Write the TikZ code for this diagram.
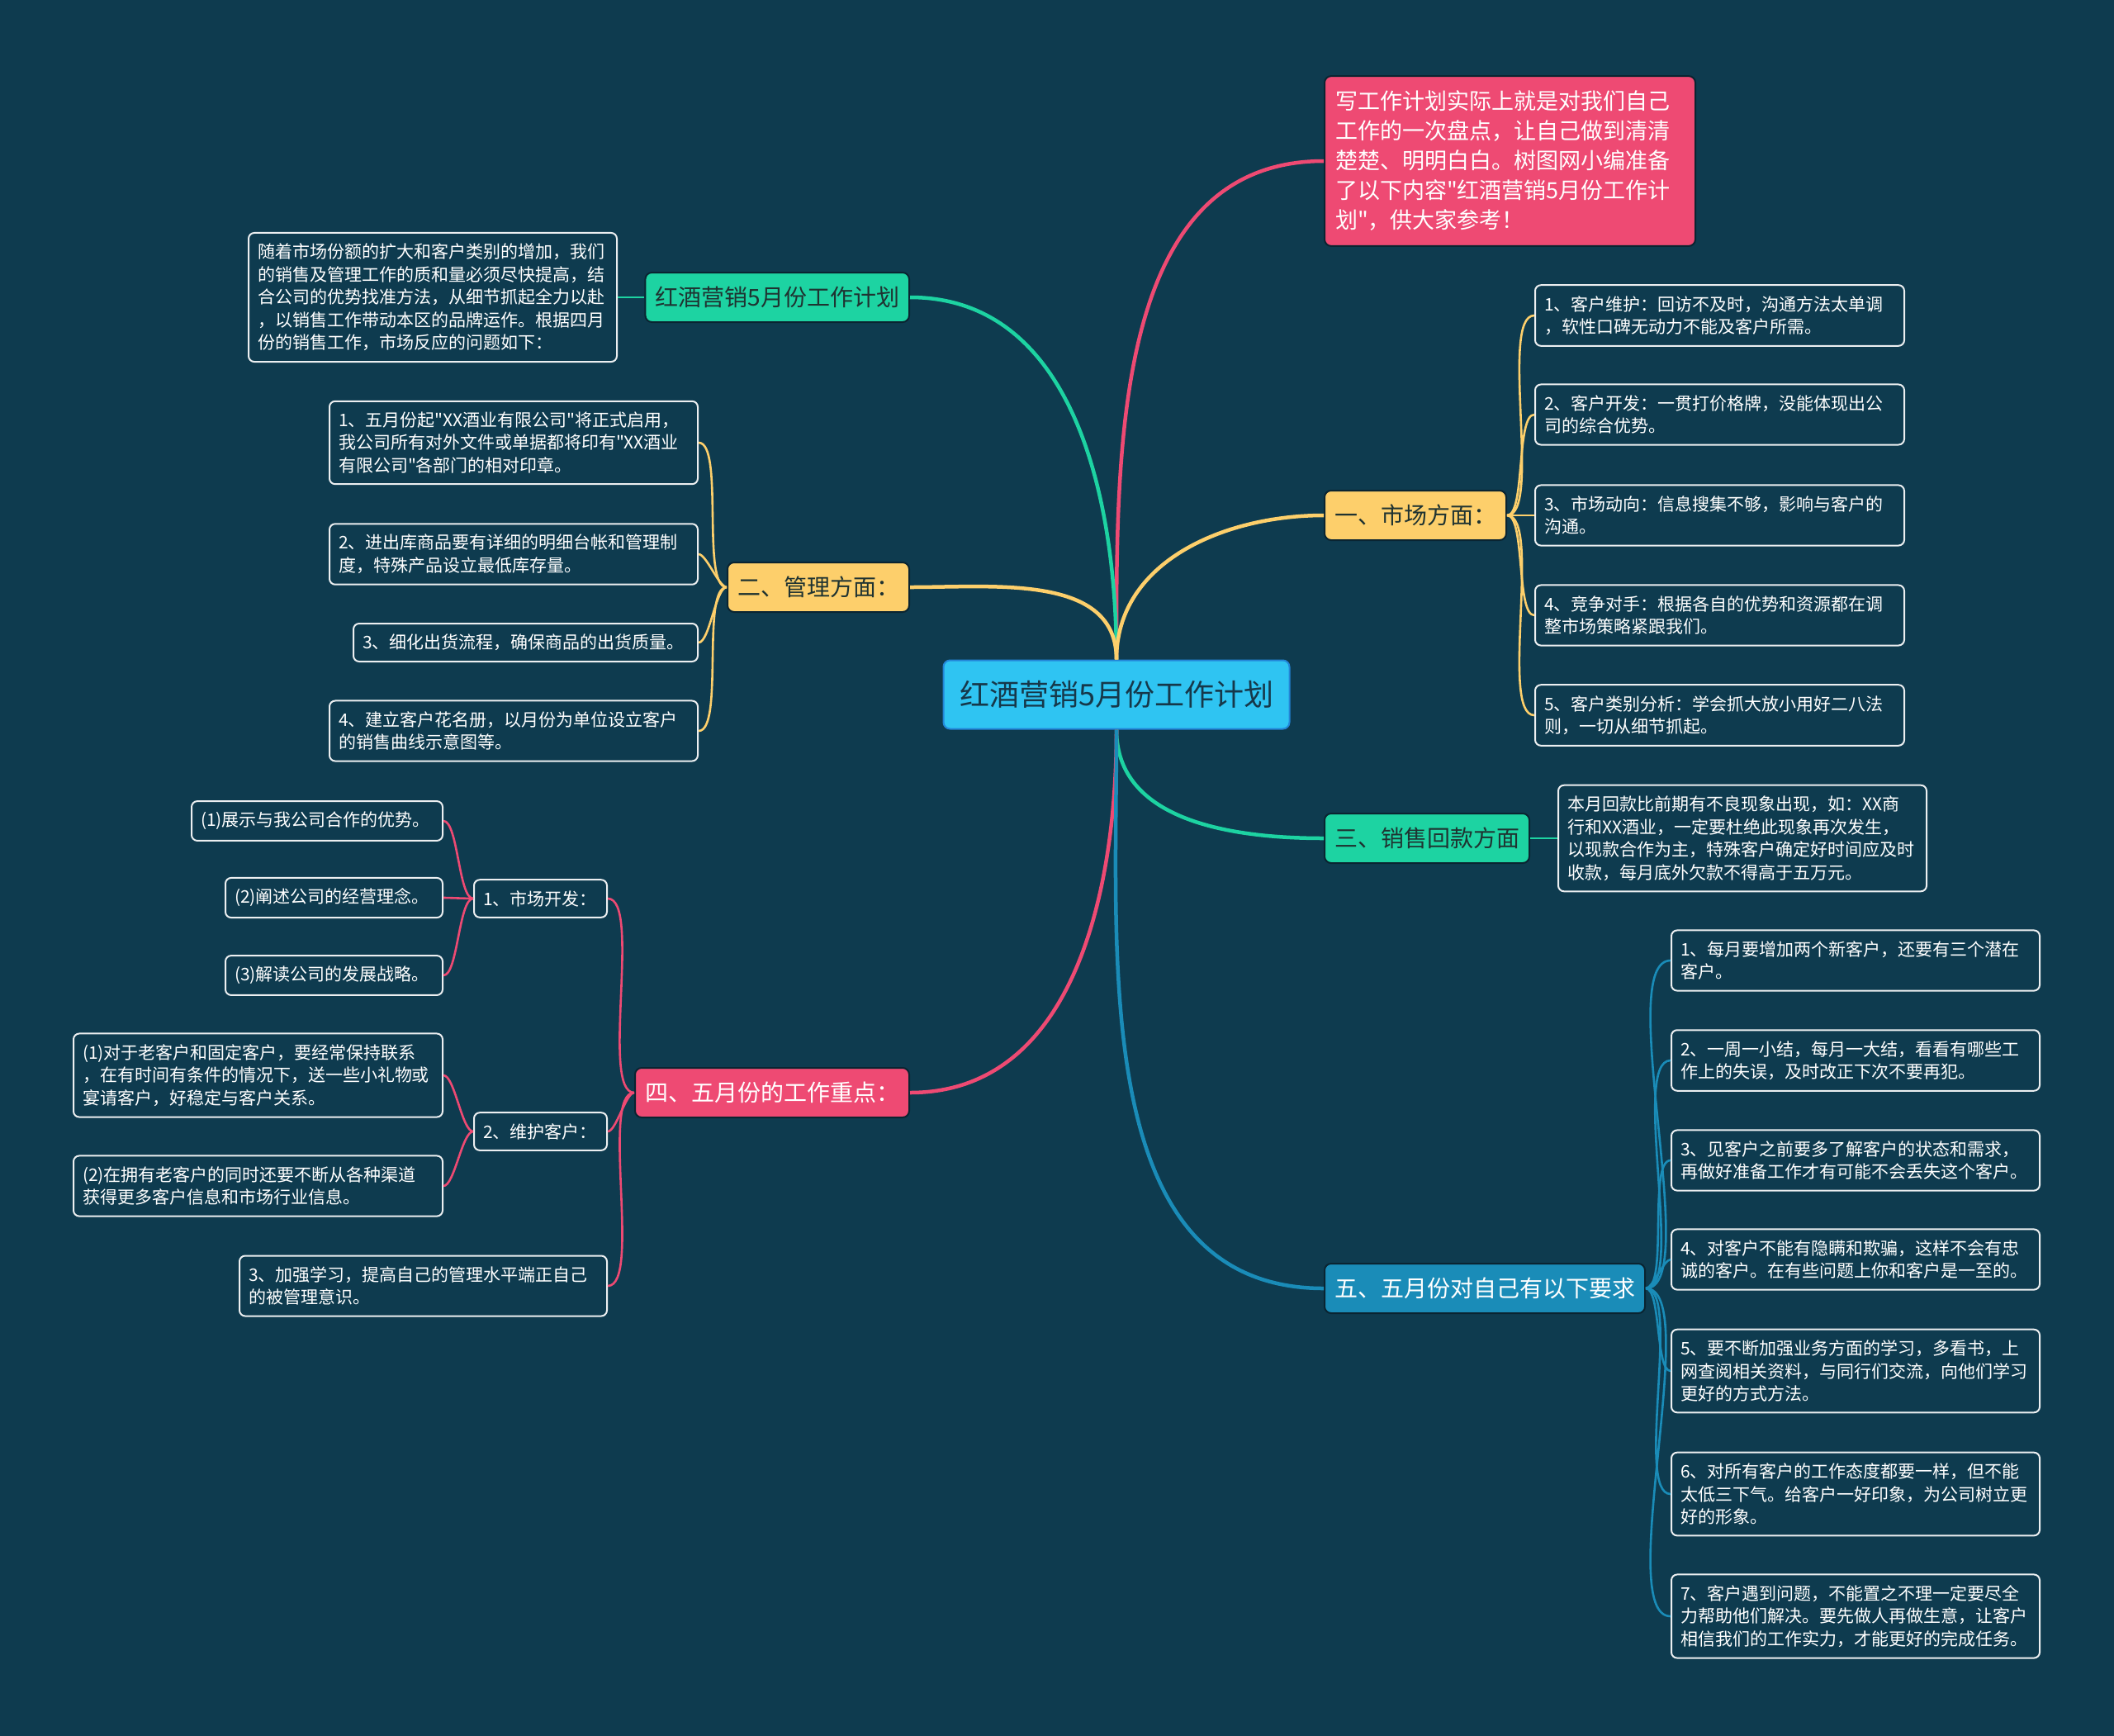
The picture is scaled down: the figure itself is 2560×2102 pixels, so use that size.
\documentclass[tikz,border=0pt]{standalone}
\usepackage{fontspec}
\newfontfamily\cjk{Noto Sans CJK SC}
\newcommand\leaffont{\cjk\fontsize{21}{27.5}\selectfont}
\newcommand\branchfont{\cjk\fontsize{28}{34}\selectfont}
\newcommand\introfont{\cjk\fontsize{27}{36}\selectfont}
\newcommand\rootfont{\cjk\fontsize{36}{42}\selectfont}
\definecolor{bgc}{HTML}{0E3B4F}
\definecolor{rootc}{HTML}{2FC4F2}
\definecolor{rootb}{HTML}{2386D8}
\definecolor{roott}{HTML}{16384A}
\definecolor{pinkc}{HTML}{EE4A73}
\definecolor{yelc}{HTML}{FDCF6B}
\definecolor{grnc}{HTML}{1DD3A2}
\definecolor{bluc}{HTML}{1A8CB8}
\definecolor{inkc}{HTML}{0A2431}
\definecolor{darktxt}{HTML}{1F3331}
\begin{document}
\begin{tikzpicture}[x=1pt, y=-1pt,
    leaf/.style={draw=white!92!bgc, line width=2pt, rounded corners=7pt, fill=bgc, text=white, font=\leaffont, align=left, inner xsep=11pt, inner ysep=13pt, text width=#1pt},
    branch/.style={draw=inkc, line width=2pt, rounded corners=8pt, font=\branchfont, minimum height=60pt, inner xsep=12pt},
    trunk/.style={line width=4.5pt},
    twig/.style={line width=2.6pt, looseness=0.45}]
    \fill[bgc] (0,0) rectangle (2560,2102);

    % centre and main branches
    \node[branch, draw=rootb, fill=rootc, text=roott, font=\rootfont, minimum width=419pt, minimum height=83pt] (root) at (1352,841) {红酒营销5月份工作计划};
    \node[branch, fill=pinkc, text=white, font=\introfont, align=left, text width=423pt, inner xsep=13pt, inner ysep=18pt, anchor=west] (intro) at (1603,195) {写工作计划实际上就是对我们自己\\工作的一次盘点，让自己做到清清\\楚楚、明明白白。树图网小编准备\\了以下内容"红酒营销5月份工作计\\划"，供大家参考！};
    \node[branch, fill=grnc, text=darktxt, minimum width=313pt, anchor=east] (plan) at (1102,360) {红酒营销5月份工作计划};
    \node[branch, fill=yelc, text=darktxt, minimum width=217pt, anchor=east] (mgmt) at (1102,711) {二、管理方面：};
    \node[branch, fill=pinkc, text=white, minimum width=326pt, anchor=east] (focus) at (1102,1323) {四、五月份的工作重点：};
    \node[branch, fill=yelc, text=darktxt, minimum width=216pt, anchor=west] (mkt) at (1603,624) {一、市场方面：};
    \node[branch, fill=grnc, text=darktxt, minimum width=244pt, anchor=west] (pay) at (1603,1015) {三、销售回款方面};
    \node[branch, fill=bluc, text=white, minimum width=379pt, anchor=west] (self) at (1603,1560) {五、五月份对自己有以下要求};

    \draw[trunk, pinkc] (root.north) to[out=90, in=180] (intro.west);
    \draw[trunk, grnc] (root.north) to[out=90, in=0] (plan.east);
    \draw[trunk, yelc] (root.north) to[out=90, in=0] (mgmt.east);
    \draw[trunk, yelc] (root.north) to[out=90, in=180] (mkt.west);
    \draw[trunk, grnc] (root.south) to[out=-90, in=180] (pay.west);
    \draw[trunk, pinkc] (root.south) to[out=-90, in=0] (focus.east);
    \draw[trunk, bluc] (root.south) to[out=-90, in=180] (self.west);

    % left side
    \node[leaf=424, anchor=east] (plan1) at (748,360) {随着市场份额的扩大和客户类别的增加，我们\\的销售及管理工作的质和量必须尽快提高，结\\合公司的优势找准方法，从细节抓起全力以赴\\，以销售工作带动本区的品牌运作。根据四月\\份的销售工作，市场反应的问题如下：};
    \node[leaf=424, anchor=east] (mgmt1) at (846,536) {1、五月份起"XX酒业有限公司"将正式启用，\\我公司所有对外文件或单据都将印有"XX酒业\\有限公司"各部门的相对印章。};
    \node[leaf=424, anchor=east] (mgmt2) at (846,671) {2、进出库商品要有详细的明细台帐和管理制\\度，特殊产品设立最低库存量。};
    \node[leaf=395, anchor=east] (mgmt3) at (846,778) {3、细化出货流程，确保商品的出货质量。};
    \node[leaf=424, anchor=east] (mgmt4) at (846,885) {4、建立客户花名册，以月份为单位设立客户\\的销售曲线示意图等。};
    \draw[twig, grnc] (plan.west) -- (plan1.east);
    \draw[twig, yelc] (mgmt.west) to[out=180, in=0] (mgmt1.east);
    \draw[twig, yelc] (mgmt.west) to[out=180, in=0] (mgmt2.east);
    \draw[twig, yelc] (mgmt.west) to[out=180, in=0] (mgmt3.east);
    \draw[twig, yelc] (mgmt.west) to[out=180, in=0] (mgmt4.east);

    \node[leaf=139, anchor=east] (dev) at (736,1088) {1、市场开发：};
    \node[leaf=139, anchor=east] (keep) at (736,1370) {2、维护客户：};
    \node[leaf=423, anchor=east] (learn) at (736,1557) {3、加强学习，提高自己的管理水平端正自己\\的被管理意识。};
    \node[leaf=282, anchor=east] (dev1) at (537,994) {(1)展示与我公司合作的优势。};
    \node[leaf=241, anchor=east] (dev2) at (537,1087) {(2)阐述公司的经营理念。};
    \node[leaf=241, anchor=east] (dev3) at (537,1181) {(3)解读公司的发展战略。};
    \node[leaf=425, anchor=east] (keep1) at (537,1302) {(1)对于老客户和固定客户，要经常保持联系\\，在有时间有条件的情况下，送一些小礼物或\\宴请客户，好稳定与客户关系。};
    \node[leaf=425, anchor=east] (keep2) at (537,1436) {(2)在拥有老客户的同时还要不断从各种渠道\\获得更多客户信息和市场行业信息。};
    \draw[twig, pinkc] (focus.west) to[out=180, in=0] (dev.east);
    \draw[twig, pinkc] (focus.west) to[out=180, in=0] (keep.east);
    \draw[twig, pinkc] (focus.west) to[out=180, in=0] (learn.east);
    \draw[twig, pinkc] (dev.west) to[out=180, in=0] (dev1.east);
    \draw[twig, pinkc] (dev.west) to[out=180, in=0] (dev2.east);
    \draw[twig, pinkc] (dev.west) to[out=180, in=0] (dev3.east);
    \draw[twig, pinkc] (keep.west) to[out=180, in=0] (keep1.east);
    \draw[twig, pinkc] (keep.west) to[out=180, in=0] (keep2.east);

    % right side
    \node[leaf=425, anchor=west] (mkt1) at (1858,382) {1、客户维护：回访不及时，沟通方法太单调\\，软性口碑无动力不能及客户所需。};
    \node[leaf=425, anchor=west] (mkt2) at (1858,502) {2、客户开发：一贯打价格牌，没能体现出公\\司的综合优势。};
    \node[leaf=425, anchor=west] (mkt3) at (1858,624) {3、市场动向：信息搜集不够，影响与客户的\\沟通。};
    \node[leaf=425, anchor=west] (mkt4) at (1858,745) {4、竞争对手：根据各自的优势和资源都在调\\整市场策略紧跟我们。};
    \node[leaf=425, anchor=west] (mkt5) at (1858,866) {5、客户类别分析：学会抓大放小用好二八法\\则，一切从细节抓起。};
    \draw[twig, yelc] (mkt.east) to[out=0, in=180] (mkt1.west);
    \draw[twig, yelc] (mkt.east) to[out=0, in=180] (mkt2.west);
    \draw[twig, yelc] (mkt.east) to[out=0, in=180] (mkt3.west);
    \draw[twig, yelc] (mkt.east) to[out=0, in=180] (mkt4.west);
    \draw[twig, yelc] (mkt.east) to[out=0, in=180] (mkt5.west);

    \node[leaf=424, anchor=west] (pay1) at (1886,1015) {本月回款比前期有不良现象出现，如：XX商\\行和XX酒业，一定要杜绝此现象再次发生，\\以现款合作为主，特殊客户确定好时间应及时\\收款，每月底外欠款不得高于五万元。};
    \draw[twig, grnc] (pay.east) -- (pay1.west);

    \node[leaf=424, anchor=west] (self1) at (2023,1163) {1、每月要增加两个新客户，还要有三个潜在\\客户。};
    \node[leaf=424, anchor=west] (self2) at (2023,1284) {2、一周一小结，每月一大结，看看有哪些工\\作上的失误，及时改正下次不要再犯。};
    \node[leaf=424, anchor=west] (self3) at (2023,1405) {3、见客户之前要多了解客户的状态和需求，\\再做好准备工作才有可能不会丢失这个客户。};
    \node[leaf=424, anchor=west] (self4) at (2023,1525) {4、对客户不能有隐瞒和欺骗，这样不会有忠\\诚的客户。在有些问题上你和客户是一至的。};
    \node[leaf=424, anchor=west] (self5) at (2023,1660) {5、要不断加强业务方面的学习，多看书，上\\网查阅相关资料，与同行们交流，向他们学习\\更好的方式方法。};
    \node[leaf=424, anchor=west] (self6) at (2023,1809) {6、对所有客户的工作态度都要一样，但不能\\太低三下气。给客户一好印象，为公司树立更\\好的形象。};
    \node[leaf=424, anchor=west] (self7) at (2023,1957) {7、客户遇到问题，不能置之不理一定要尽全\\力帮助他们解决。要先做人再做生意，让客户\\相信我们的工作实力，才能更好的完成任务。};
    \draw[twig, bluc] (self.east) to[out=0, in=180] (self1.west);
    \draw[twig, bluc] (self.east) to[out=0, in=180] (self2.west);
    \draw[twig, bluc] (self.east) to[out=0, in=180] (self3.west);
    \draw[twig, bluc] (self.east) to[out=0, in=180] (self4.west);
    \draw[twig, bluc] (self.east) to[out=0, in=180] (self5.west);
    \draw[twig, bluc] (self.east) to[out=0, in=180] (self6.west);
    \draw[twig, bluc] (self.east) to[out=0, in=180] (self7.west);
\end{tikzpicture}
\end{document}
